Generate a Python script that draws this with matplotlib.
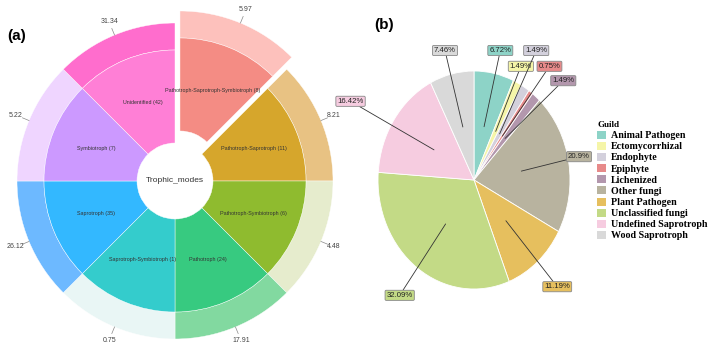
import numpy as np
import matplotlib
matplotlib.use("Agg")
import matplotlib.pyplot as plt
from matplotlib.patches import Patch

W, H, DPI = 708, 344, 100

# (a) trophic modes: equal sectors, clockwise from 12 o'clock
modes = ["Pathotroph-Saprotroph-Symbiotroph", "Pathotroph-Saprotroph",
         "Pathotroph-Symbiotroph", "Pathotroph", "Saprotroph-Symbiotroph",
         "Saprotroph", "Symbiotroph", "Unidentified"]
mode_counts = [8, 11, 6, 24, 1, 35, 7, 42]
mode_pct = ["5.97", "8.21", "4.48", "17.91", "0.75", "26.12", "5.22", "31.34"]
inner_colors = ["#F48C84", "#D6A62C", "#8FBB2F", "#37CA80",
                "#34CCCC", "#33B8FF", "#CC99FF", "#FF7FD6"]
outer_colors = ["#FDC1BC", "#E8C283", "#E6ECCD", "#82D9A0",
                "#E9F6F5", "#6DB9FF", "#EFD5FF", "#FF6DCD"]

# (b) guilds
guilds = ["Animal Pathogen", "Ectomycorrhizal", "Endophyte", "Epiphyte",
          "Lichenized", "Other fungi", "Plant Pathogen", "Unclassified fungi",
          "Undefined Saprotroph", "Wood Saprotroph"]
guild_pct = [6.72, 1.49, 1.49, 0.75, 1.49, 20.9, 11.19, 32.09, 16.42, 7.46]
guild_colors = ["#8DD3C7", "#F5F5A8", "#D3D0DC", "#E78A8A", "#B397AD",
                "#B8B39F", "#E6BF5E", "#C3DA86", "#F6CCE0", "#D9D9D9"]
# label box positions (x, y) in pie-radius units
label_pos = [(0.274, 1.188), (0.488, 1.043), (0.648, 1.188), (0.786, 1.043),
             (0.930, 0.911), (1.094, 0.214), (0.867, -0.979), (-0.774, -1.058),
             (-1.286, 0.722), (-0.302, 1.188)]

fig = plt.figure(figsize=(W / DPI, H / DPI), dpi=DPI)


def px_axes(cx, cy, rx, ry, lim):
    # axes whose unit circle has radius rx (horizontal) / ry (vertical) pixels
    w, h = 2 * lim * rx, 2 * lim * ry
    ax = fig.add_axes([(cx - w / 2) / W, (H - cy - h / 2) / H, w / W, h / H])
    return ax


# ---------- (a) ----------
R = 158.0
axa = px_axes(175, 181, R, R, 1.1)
explode = [13 / R] + [0] * 7
ones = [1] * len(modes)
wo, to = axa.pie(ones, radius=1.0, colors=outer_colors, startangle=90,
                 counterclock=False, explode=explode,
                 wedgeprops=dict(width=27 / R, edgecolor="white", linewidth=0.3))
r_in = 131 / R
wi, ti = axa.pie(ones, radius=r_in, colors=inner_colors, startangle=90,
                 counterclock=False, explode=explode,
                 labels=[f"{m} ({c})" for m, c in zip(modes, mode_counts)],
                 labeldistance=(85 / R) / r_in,
                 textprops=dict(fontsize=3.9, color="#333333", family="Liberation Sans"),
                 wedgeprops=dict(width=(131 - 38) / R, edgecolor="white", linewidth=0.3))
for t in ti:
    t.set_ha("center")
    t.set_va("center")
for w, lab in zip(wo, mode_pct):
    th = np.deg2rad((w.theta1 + w.theta2) / 2)
    cx, cy = w.center
    d = np.array([np.cos(th), np.sin(th)])
    p0 = np.array([cx, cy]) + d * 1.0
    p1 = np.array([cx, cy]) + d * 1.045
    axa.plot([p0[0], p1[0]], [p0[1], p1[1]], color="#888888", lw=0.5)
    pt = np.array([cx, cy]) + d * 1.09
    axa.text(pt[0], pt[1], lab, ha="center", va="center", fontsize=5,
             color="#444444", family="Liberation Sans")
axa.text(0, 0.0, "Trophic_modes", ha="center", va="center", fontsize=6,
         color="#333333", family="Liberation Sans")
axa.set_xlim(-1.1, 1.1)
axa.set_ylim(-1.1, 1.1)
axa.set_aspect("auto")
axa.axis("off")

# ---------- (b) ----------
axb = px_axes(474, 180, 96, 109, 1.5)
wb, _ = axb.pie(guild_pct, colors=guild_colors, startangle=90, counterclock=False,
                wedgeprops=dict(edgecolor="white", linewidth=0.6))
for w, v, c, pos in zip(wb, guild_pct, guild_colors, label_pos):
    th = np.deg2rad((w.theta1 + w.theta2) / 2)
    xy = (0.5 * np.cos(th), 0.5 * np.sin(th))
    axb.annotate(f"{v:g}%", xy=xy, xytext=pos, ha="center", va="center",
                 fontsize=5.6, color="#222222", family="Liberation Sans",
                 bbox=dict(boxstyle="round,pad=0.2,rounding_size=0.15", fc=c,
                           ec="#888888", lw=0.6),
                 arrowprops=dict(arrowstyle="-", color="#333333", lw=0.6,
                                 shrinkA=0, shrinkB=0))
axb.set_xlim(-1.5, 1.5)
axb.set_ylim(-1.5, 1.5)
axb.set_aspect("auto")
axb.axis("off")

handles = [Patch(facecolor=c, edgecolor="none") for c in guild_colors]
leg = fig.legend(handles, guilds, loc="upper left",
                 bbox_to_anchor=(593 / W, 1 - 117 / H), frameon=False,
                 prop=dict(family="Liberation Serif", weight="bold", size=7.2),
                 title="Guild", title_fontproperties=dict(family="Liberation Serif",
                                                          weight="bold", size=6.5),
                 alignment="left", handlelength=0.85, handleheight=0.85,
                 handletextpad=0.55, labelspacing=0.17, borderaxespad=0)

fig.text(17 / W, 1 - 36 / H, "(a)", ha="center", va="center", fontsize=11,
         fontweight="bold", family="Liberation Sans")
fig.text(384 / W, 1 - 25 / H, "(b)", ha="center", va="center", fontsize=11,
         fontweight="bold", family="Liberation Sans")

fig.savefig("out.png", dpi=DPI)
